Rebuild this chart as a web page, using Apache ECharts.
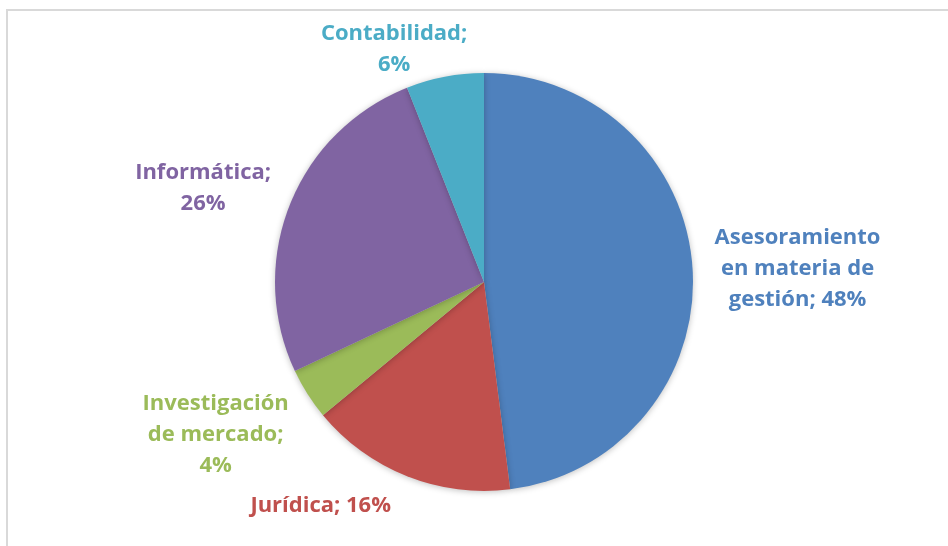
<!DOCTYPE html>
<html><head><meta charset="utf-8">
<script src="https://cdn.jsdelivr.net/npm/echarts@6/dist/echarts.min.js"></script>
<style>html,body{margin:0;padding:0;background:#fff}#c{width:948px;height:546px}</style>
</head><body><div id="c"></div>
<script>
const categories = ['Asesoramiento en materia de gestión', 'Jurídica', 'Investigación de mercado', 'Informática', 'Contabilidad'];
const labelTexts = ['Asesoramiento\nen materia de\ngestión;', 'Jurídica;', 'Investigación\nde mercado;', 'Informática;', 'Contabilidad;'];
const values = [48, 16, 4, 26, 6];
const colors = ['#4F81BD', '#C0504D', '#9BBB59', '#8064A2', '#4BACC6'];

const chart = echarts.init(document.getElementById('c'));
const data = categories.map((c, i) => ({
  name: c, value: values[i],
  itemStyle: { color: colors[i] },
  label: { color: colors[i] }
}));
function fmt(p) {
  const i = p.dataIndex, v = values[i] + '%';
  if (i === 0 || i === 1) return labelTexts[i] + ' ' + v;
  return labelTexts[i] + '\n' + v;
}
chart.setOption({
  animation: false,
  graphic: [{ type: 'rect', shape: { x: 7, y: 10, width: 1000, height: 600 }, style: { fill: 'none', stroke: '#d9d9d9', lineWidth: 2 }, silent: true }],
  series: [{
    type: 'pie',
    center: [484, 282],
    radius: 209,
    startAngle: 90,
    clockwise: true,
    data: data,
    itemStyle: { shadowBlur: 6, shadowColor: 'rgba(0,0,0,0.25)', shadowOffsetY: 1 },
    label: {
      show: true, position: 'outside', formatter: fmt,
      fontFamily: 'Open Sans', fontWeight: 'bold', fontSize: 22, lineHeight: 31,
      align: 'center'
    },
    labelLine: { show: false, length: 20, length2: 0 },
    labelLayout: function (p) {
      const adj = [[80, 1], [-74, 11], [-70, 30], [-63, -9], [-42, -8]];
      return { dx: adj[p.dataIndex][0], dy: adj[p.dataIndex][1], align: 'center' };
    }
  }]
});
</script></body></html>
